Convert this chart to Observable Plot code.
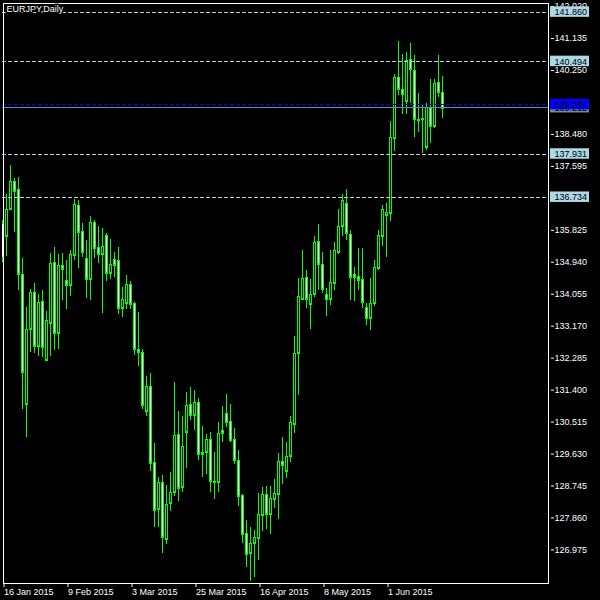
<!DOCTYPE html>
<html>
<head>
<meta charset="utf-8">
<script src="https://cdn.jsdelivr.net/npm/d3@7"></script>
<script src="https://cdn.jsdelivr.net/npm/@observablehq/plot@0.6"></script>
<style>
  html, body { margin: 0; padding: 0; background: #000; width: 600px; height: 600px; overflow: hidden; }
  #chart svg { display: block; max-width: none; }
</style>
</head>
<body>
<div id="chart"></div>
<script>
// EURJPY daily, 16 Jan 2015 .. 19 Jun 2015 (one entry per trading day)
const open = [
  136.01, 135.65, 136.40, 137.18, 136.95, 134.59, 130.99, 133.07, 134.09, 132.62,
  133.85, 132.23, 133.25, 134.93, 132.98, 134.84, 134.43, 134.31, 135.14, 136.50,
  135.79, 135.04, 134.47, 136.04, 135.35, 135.16, 135.68, 134.64, 135.02, 134.99,
  133.67, 133.81, 134.32, 133.80, 132.53, 132.45, 130.80, 131.50, 129.40, 128.09,
  128.84, 127.26, 128.25, 128.56, 130.17, 128.70, 130.22, 131.00, 130.69, 131.05,
  129.68, 129.67, 130.03, 128.87, 128.83, 130.28, 130.75, 130.53, 130.03, 129.45,
  128.47, 127.42, 126.89, 127.14, 127.30, 127.94, 128.50, 127.97, 128.38, 128.52,
  129.42, 129.14, 129.57, 130.44, 132.42, 133.91, 134.53, 133.78, 134.04, 135.51,
  134.87, 134.04, 133.91, 134.36, 135.22, 135.92, 136.56, 135.71, 134.59, 134.54,
  134.46, 133.69, 133.39, 133.80, 134.77, 135.66, 136.24, 136.30, 138.36, 140.06,
  139.71, 139.40, 140.55, 140.25, 138.89, 138.88, 138.13, 139.22, 138.70, 139.92,
  139.65
];
const high = [
  136.10, 136.82, 137.62, 137.25, 137.28, 135.04, 133.70, 134.19, 134.35, 134.05,
  134.16, 133.58, 135.18, 135.35, 135.16, 135.18, 134.99, 135.27, 136.68, 136.65,
  136.01, 135.54, 136.21, 136.10, 135.93, 135.88, 135.74, 135.57, 135.21, 135.35,
  134.24, 134.57, 134.41, 133.83, 133.55, 132.53, 131.78, 131.86, 129.93, 128.97,
  129.04, 128.75, 129.12, 131.61, 130.81, 130.67, 131.33, 131.47, 131.39, 131.17,
  130.39, 130.17, 130.23, 129.68, 130.49, 130.96, 131.28, 131.01, 130.33, 129.73,
  128.51, 127.79, 127.61, 127.51, 128.53, 128.70, 128.73, 128.73, 128.93, 129.65,
  130.09, 129.95, 130.68, 132.89, 134.49, 135.27, 134.71, 134.46, 135.65, 135.99,
  135.21, 134.21, 135.27, 135.49, 136.40, 136.82, 136.95, 135.82, 134.80, 135.32,
  135.32, 133.80, 134.50, 134.99, 135.82, 136.51, 136.57, 138.84, 140.14, 141.05,
  140.69, 140.74, 141.00, 140.66, 139.60, 139.28, 139.34, 139.99, 140.00, 140.66,
  140.08
];
const low = [
  134.93, 135.10, 136.37, 135.77, 134.16, 130.86, 130.10, 132.45, 132.41, 132.34,
  132.31, 132.19, 132.33, 132.50, 132.53, 133.88, 133.63, 134.00, 134.99, 134.77,
  135.07, 133.94, 133.88, 135.04, 134.91, 133.52, 134.42, 134.47, 134.52, 133.50,
  133.42, 133.64, 133.64, 132.37, 132.06, 130.86, 130.66, 129.16, 127.59, 127.61,
  126.87, 127.12, 128.05, 128.46, 128.33, 128.56, 129.24, 130.55, 130.28, 129.44,
  128.99, 129.06, 128.56, 128.36, 128.57, 129.96, 130.37, 129.95, 129.35, 128.18,
  127.16, 126.49, 126.10, 126.22, 126.68, 127.48, 127.55, 127.41, 128.13, 127.83,
  128.80, 128.96, 129.39, 130.21, 131.25, 133.88, 133.67, 133.09, 133.97, 134.16,
  134.07, 133.45, 133.73, 134.16, 135.16, 135.65, 135.54, 133.88, 133.86, 134.16,
  133.67, 133.20, 133.06, 133.72, 134.72, 135.38, 135.08, 136.08, 138.02, 139.56,
  139.03, 139.03, 139.34, 138.40, 138.54, 137.94, 138.04, 138.22, 138.64, 139.51,
  138.91
];
const close = [
  135.04, 136.39, 137.18, 136.91, 134.60, 131.90, 133.08, 134.09, 132.62, 133.82,
  132.57, 133.33, 134.91, 132.98, 134.84, 134.73, 134.31, 135.16, 136.54, 135.77,
  135.22, 134.47, 136.04, 135.33, 135.16, 135.38, 134.64, 134.88, 134.86, 133.67,
  133.91, 134.32, 133.77, 132.53, 132.45, 130.97, 131.50, 129.36, 128.06, 128.84,
  127.33, 128.23, 128.57, 130.14, 128.67, 129.84, 130.98, 130.69, 131.05, 129.61,
  129.62, 130.03, 128.86, 128.85, 130.19, 130.21, 130.51, 130.01, 129.45, 128.46,
  127.41, 126.86, 127.15, 127.31, 127.95, 128.50, 127.97, 128.40, 128.54, 129.42,
  129.31, 129.55, 130.50, 132.41, 133.99, 134.48, 133.91, 134.04, 135.48, 134.87,
  134.18, 133.90, 134.38, 135.26, 135.92, 136.64, 135.73, 134.53, 134.53, 134.44,
  133.83, 133.39, 133.80, 134.80, 135.68, 136.40, 136.32, 138.39, 140.06, 139.71,
  139.59, 140.53, 140.27, 138.88, 138.87, 138.91, 139.22, 138.70, 139.90, 139.65,
  139.21
];

// x-axis: bar index of each date label
const xTickBars = [0, 16, 32, 48, 64, 80, 96];
const xTickLabels = ["16 Jan 2015", "9 Feb 2015", "3 Mar 2015", "25 Mar 2015", "16 Apr 2015", "8 May 2015", "1 Jun 2015"];

// y-axis price ticks (those hidden behind the price boxes are left out)
const yTicks = [142.020, 141.135, 140.250, 138.480, 137.595, 135.825, 134.940,
  134.055, 133.170, 132.285, 131.400, 130.515, 129.630, 128.745, 127.860, 126.975];

// horizontal levels
const dashedLevels = [141.860, 140.494, 137.931, 136.734];
const blueLevel = [139.297];
const bidLevel = [139.212];

const title = "EURJPY,Daily";

// ---- build table
const bars = open.map((o, i) => ({i, open: o, high: high[i], low: low[i], close: close[i]}));

const LIME = "rgb(0,255,0)";
const lightLine = "#b8cde0";
const boxBlue = "#add8e6";
const crisp = {shapeRendering: "crispEdges", clip: true};
const boxOpts = {y1: d => d, y2: d => d, insetTop: -5.5, insetBottom: -5, insetLeft: 548, insetRight: -41};
const boxText = {y: d => d, text: d => d.toFixed(3), frameAnchor: "right", textAnchor: "start", dx: 6, fill: "#000"};

const chart = Plot.plot({
  width: 600,
  height: 600,
  marginLeft: 2,
  marginRight: 52,
  marginTop: 2,
  marginBottom: 17,
  style: {background: "#000", color: "#fff", fontFamily: "'Liberation Sans', Arial, sans-serif", fontSize: "9px"},
  x: {type: "linear", domain: [-0.125, 136.375], axis: null, label: null},
  y: {domain: [126.046, 142.132], axis: null, label: null},
  marks: [
    // candles: wick (1px rect), green body, edge lines, 1px inner fill (white = falling, black = rising)
    Plot.rect(bars, {x1: d => d.i - 0.125, x2: d => d.i + 0.125, y1: "low", y2: "high", fill: LIME, ...crisp}),
    Plot.rect(bars, {x1: d => d.i - 0.375, x2: d => d.i + 0.375, y1: "open", y2: "close", fill: LIME, ...crisp}),
    Plot.ruleY(bars, {x1: d => d.i - 0.375, x2: d => d.i + 0.375, y: "open", stroke: LIME, ...crisp}),
    Plot.ruleY(bars, {x1: d => d.i - 0.375, x2: d => d.i + 0.375, y: "close", stroke: LIME, ...crisp}),
    Plot.rect(bars, {x1: d => d.i - 0.125, x2: d => d.i + 0.125, y1: "open", y2: "close",
      insetTop: 1, insetBottom: 1, fill: d => d.close < d.open ? "#ffffff" : "#000000", ...crisp}),

    // horizontal levels
    Plot.ruleY(dashedLevels, {stroke: lightLine, strokeDasharray: "4,2", ...crisp}),
    Plot.ruleY(bidLevel, {stroke: "#778899", ...crisp}),
    Plot.ruleY(blueLevel, {stroke: "#0000ff", strokeDasharray: "4,2", ...crisp}),

    // frame
    Plot.frame({stroke: "#fff", inset: 0.5, shapeRendering: "crispEdges"}),

    // axes
    Plot.axisX(xTickBars, {anchor: "bottom", tickSize: 4, tickPadding: 1, textAnchor: "start", dx: 1, label: null,
      tickFormat: d => xTickLabels[xTickBars.indexOf(d)], color: "#fff"}),
    Plot.axisY(yTicks, {anchor: "right", tickSize: 3, tickPadding: 1, dx: 2, label: null,
      tickFormat: d => d.toFixed(3), color: "#fff"}),

    // price label boxes
    Plot.rect(dashedLevels, {...boxOpts, fill: boxBlue}),
    Plot.text(dashedLevels, boxText),
    Plot.rect(bidLevel, {...boxOpts, fill: "#778899"}),
    Plot.text(bidLevel, boxText),
    Plot.rect(blueLevel, {...boxOpts, fill: "#0000ff"}),
    Plot.text(blueLevel, boxText),

    // title
    Plot.text([title], {frameAnchor: "top-left", dx: 4, dy: 3, textAnchor: "start", lineAnchor: "top",
      fill: "#fff", stroke: "#000", strokeWidth: 3})
  ]
});
document.getElementById("chart").appendChild(chart);
</script>
</body>
</html>
